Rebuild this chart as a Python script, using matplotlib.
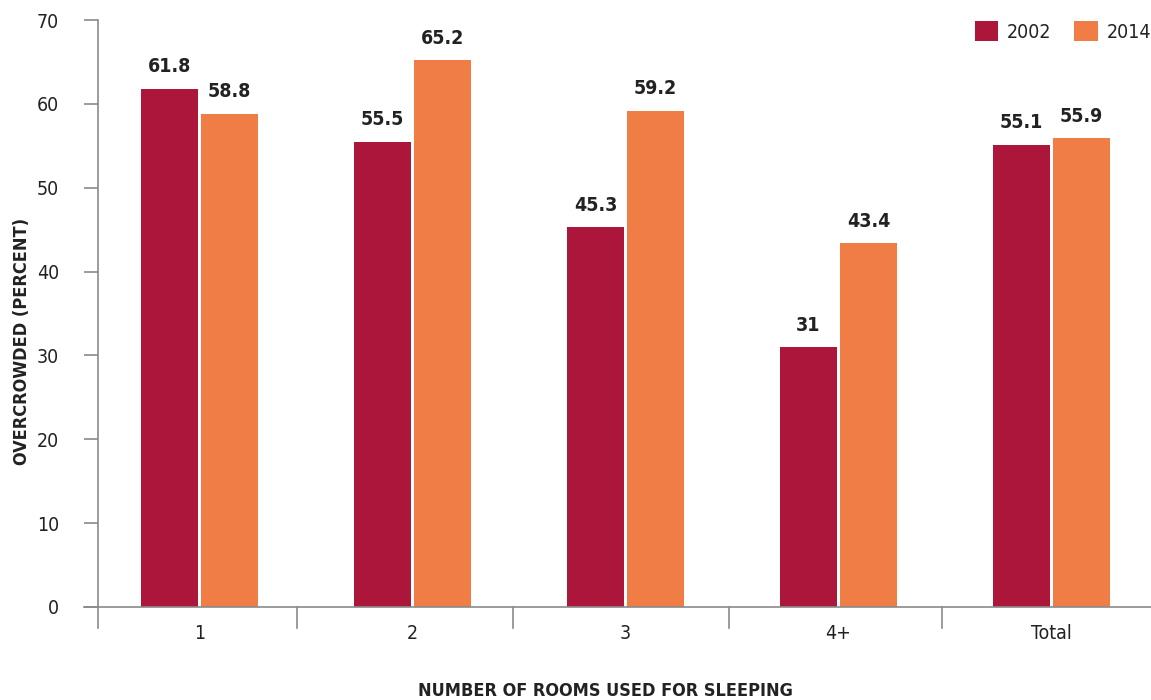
import numpy as np
import matplotlib
matplotlib.use("Agg")
import matplotlib.pyplot as plt
import matplotlib.transforms as mtransforms

plt.rcParams["font.family"] = ["Liberation Sans Narrow", "DejaVu Sans"]
plt.rcParams["font.stretch"] = "condensed"

categories = ["1", "2", "3", "4+", "Total"]
years = ["2002", "2014"]
values_2002 = [61.8, 55.5, 45.3, 31, 55.1]
values_2014 = [58.8, 65.2, 59.2, 43.4, 55.9]
value_labels_2002 = ["61.8", "55.5", "45.3", "31", "55.1"]
value_labels_2014 = ["58.8", "65.2", "59.2", "43.4", "55.9"]

RED = "#AB163A"
ORANGE = "#EF7D45"
GREY = "#8a8a8a"
TEXT = "#222222"

fig = plt.figure(figsize=(11.51, 7.0), dpi=100)
ax = fig.add_axes([98 / 1151, 93 / 700, 1053 / 1151, 587 / 700])

x = np.arange(len(categories))
w = 0.268
off = 0.141
b1 = ax.bar(x - off, values_2002, width=w, color=RED, label=years[0], zorder=2)
b2 = ax.bar(x + off, values_2014, width=w, color=ORANGE, label=years[1], zorder=2)

for bars, labels in [(b1, value_labels_2002), (b2, value_labels_2014)]:
    for rect, lab in zip(bars, labels):
        ax.annotate(lab, (rect.get_x() + rect.get_width() / 2, rect.get_height()),
                    xytext=(0, 9), textcoords="offset points",
                    ha="center", va="bottom", fontsize=14,
                    fontweight="bold", color=TEXT)

ax.set_xlim(-0.477, 4.467)
ax.set_ylim(0, 70)
ax.set_yticks(np.arange(0, 71, 10))
ax.set_xticks(x)
ax.set_xticklabels(categories)

for s in ["top", "right", "left"]:
    ax.spines[s].set_visible(False)
ax.spines["bottom"].set_color(GREY)
ax.spines["bottom"].set_linewidth(1.2)

ax.tick_params(axis="y", length=10, width=1.2, color=GREY, pad=18,
               labelsize=14, labelcolor=TEXT)
ax.tick_params(axis="x", length=0, pad=12, labelsize=14, labelcolor=TEXT)

# y axis line running a little below zero, and the x line reaching left to the ticks
trans = mtransforms.blended_transform_factory(ax.transData, ax.transAxes)
ax.plot([-0.477, -0.477], [-0.036, 1.0], transform=trans, color=GREY,
        lw=1.2, clip_on=False, zorder=3)
ax.plot([-0.477 - 0.066, -0.477], [0, 0], transform=trans, color=GREY,
        lw=1.2, clip_on=False)

# category separators
for sx in [0.458, 1.47, 2.486, 3.486]:
    ax.plot([sx, sx], [-0.036, 0], transform=trans, color=GREY, lw=1.2,
            clip_on=False)

leg = ax.legend(loc="upper right", bbox_to_anchor=(1.0, 0.998), ncol=2,
                frameon=False, fontsize=14, handlelength=1.2,
                handleheight=1.2, handletextpad=0.45, columnspacing=1.2,
                borderaxespad=0.0, borderpad=0.0)
for t in leg.get_texts():
    t.set_color(TEXT)

fig.text(22 / 1151, 1 - 341 / 700, "OVERCROWDED (PERCENT)", rotation=90,
         ha="center", va="center", fontsize=13, fontweight="bold", color=TEXT)
fig.text(605 / 1151, 1 - 691 / 700, "NUMBER OF ROOMS USED FOR SLEEPING",
         ha="center", va="center", fontsize=13, fontweight="bold", color=TEXT)

fig.savefig("out.png", dpi=100)
